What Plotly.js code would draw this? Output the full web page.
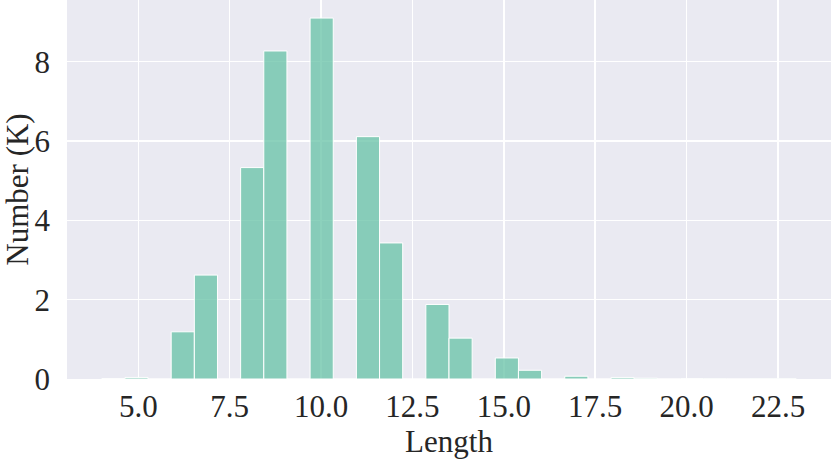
<!DOCTYPE html>
<html>
<head>
<meta charset="utf-8">
<script src="https://cdn.plot.ly/plotly-3.0.1.min.js"></script>
<style>
  html, body { margin: 0; padding: 0; background: #ffffff; }
  #chart { width: 831px; height: 459px; }
</style>
</head>
<body>
<div id="chart"></div>
<script>
// Histogram of lengths: 30 equal bins spanning [4, 23]
const binStart = 4;
const binEnd = 23;
const binCount = 30;
// Count per bin, in thousands (K)
const counts = [
  0.01, 0.04, 0, 1.19, 2.62, 0, 5.33, 8.27, 0, 9.10,
  0, 6.11, 3.43, 0, 1.88, 1.03, 0, 0.53, 0.22, 0,
  0.07, 0, 0.04, 0.02, 0, 0.01, 0.005, 0, 0.005, 0.005
];
const xTickVals = [5.0, 7.5, 10.0, 12.5, 15.0, 17.5, 20.0, 22.5];
const yTickVals = [0, 2, 4, 6, 8];

const binWidth = (binEnd - binStart) / binCount;
const centers = counts.map((_, i) => binStart + binWidth * (i + 0.5));

const span = binEnd - binStart;
const xRange = [binStart - 0.05 * span, binEnd + 0.05 * span];
const yMax = Math.max(...counts) * 1.05;

const FAM = '"Liberation Serif", "Times New Roman", serif';
const TXT = '#262626';
function f(size) { return { family: FAM, size: size, color: TXT }; }

const trace = {
  type: 'bar',
  x: centers,
  y: counts,
  width: Array(counts.length).fill(binWidth),
  marker: {
    color: 'rgba(102,194,165,0.75)',
    line: { color: '#ffffff', width: 1 }
  },
  hoverinfo: 'x+y'
};

const layout = {
  width: 831,
  height: 459,
  margin: { l: 67, r: 0, t: 0, b: 80 },
  paper_bgcolor: '#ffffff',
  plot_bgcolor: '#eaeaf2',
  showlegend: false,
  bargap: 0,
  font: f(31),
  xaxis: {
    range: xRange,
    tickvals: xTickVals,
    ticktext: xTickVals.map(v => v.toFixed(1)),
    showgrid: true,
    gridcolor: '#ffffff',
    gridwidth: 1.5,
    zeroline: false,
    showline: false,
    ticks: '',
    ticklabelstandoff: 6,
    tickfont: f(31),
    title: { text: 'Length', font: f(31), standoff: 3 }
  },
  yaxis: {
    range: [0, yMax],
    tickvals: yTickVals,
    ticktext: yTickVals.map(String),
    showgrid: true,
    gridcolor: '#ffffff',
    gridwidth: 1.5,
    zeroline: false,
    showline: false,
    ticks: '',
    ticklabelstandoff: 16,
    tickfont: f(31),
    title: { text: 'Number (K)', font: f(31), standoff: 0 }
  }
};

Plotly.newPlot('chart', [trace], layout, { staticPlot: true, displayModeBar: false });
</script>
</body>
</html>
